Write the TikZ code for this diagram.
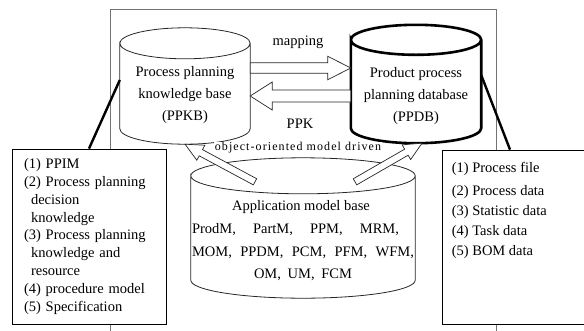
\documentclass[tikz,border=0pt]{standalone}
\usepackage{fontspec}
\setmainfont{Liberation Serif}
\usetikzlibrary{calc,positioning}
\newcommand\dbcyl[3][]{%
  \draw[#1] let \p1=(#2.north west), \p2=(#2.south east), \n1={(\x2-\x1)/2} in
    (\x1,\y1-#3) arc[start angle=180,end angle=-180,x radius=\n1,y radius=#3]
    -- (\x1,\y2+#3) arc[start angle=180,end angle=360,x radius=\n1,y radius=#3]
    -- (\x2,\y1-#3);}
\newcommand\bigarrow[6][]{%
  \coordinate (hb) at ($(#3)!#6!(#2)$);
  \draw[#1] ($(#2)!#4!90:(#3)$) -- ($(hb)!#4!-90:(#2)$) -- ($(hb)!#5!-90:(#2)$)
    -- (#3) -- ($(hb)!#5!90:(#2)$) -- ($(hb)!#4!90:(#2)$) -- ($(#2)!#4!-90:(#3)$) -- cycle;}

\begin{document}
\begin{tikzpicture}[x=1pt,y=1pt,
  dbase/.style={minimum width=130pt,inner sep=0pt},
  dbtext/.style={align=center,inner sep=0pt,font=\fontsize{14.5}{22}\selectfont},
  listbox/.style={draw=black,fill=white,line width=0.8pt},
  listtext/.style={align=left,inner sep=0pt,font=\fontsize{14.5}{20}\selectfont},
  link/.style={line width=2.4pt},
  blk/.style={draw=black!85,fill=white,line width=0.7pt,line join=miter}]
%
\useasboundingbox (0,-330) rectangle (584,0);
%
\definecolor{cfr}{rgb}{0.45,0.45,0.45}
\definecolor{ccy}{rgb}{0.15,0.15,0.15}
%
\draw[cfr,line width=0.8pt] (110,-9) rectangle (496,-345);
%
\node[dbase,minimum height=116pt] (ppkb) at (185,-86) {};
\node[dbase,minimum height=118pt] (ppdb) at (416,-84) {};
\node[dbase,minimum width=224pt,minimum height=140pt] (app) at (303,-228) {};
\dbcyl[ccy,line width=0.8pt]{ppkb}{15.5pt}
\dbcyl[black,line width=2.6pt]{ppdb}{15pt}
\dbcyl[ccy,line width=0.8pt]{app}{18pt}
%
\node[dbtext] (ppkbt) at ([yshift=-9pt]ppkb.center) {Process planning\\knowledge base\\(PPKB)};
\node[dbtext] (ppdbt) at ([yshift=-12pt]ppdb.center) {Product process\\planning database\\(PPDB)};
\node[dbtext,font=\fontsize{14.5}{22.7}\selectfont] (appt) at ([yshift=-13pt]app.center)
  {\hspace*{-4pt}Application model base\\
   \makebox[222pt][s]{ProdM,\hfill PartM,\hfill PPM,\hfill MRM,\hspace*{15pt}}\\
   \makebox[222pt][s]{MOM,\hfill PPDM,\hfill PCM,\hfill PFM,\hfill WFM,}\\
   \makebox[98pt][s]{OM,\hfill UM,\hfill FCM}};
%
\coordinate (mapa) at ([yshift=18pt]ppkb.east);
\coordinate (mapb) at ([yshift=16pt]ppdb.west);
\coordinate (ppka) at ([yshift=-12pt]ppdb.west);
\coordinate (ppkb2) at ([yshift=-10pt]ppkb.east);
\bigarrow[blk]{mapa}{mapb}{5.3pt}{11.7pt}{23pt}
\bigarrow[blk]{ppka}{ppkb2}{6pt}{14pt}{22pt}
\node[font=\fontsize{14.5}{16}\selectfont] (map) at (298,-42) {mapping};
\node[font=\fontsize{14.5}{16}\selectfont] (ppk) at (300,-124) {PPK};
%
\coordinate (la) at ([xshift=-48pt,yshift=-24pt]app.north);
\coordinate (ra) at ([xshift=52pt,yshift=-24pt]app.north);
\coordinate (lt) at (ppkb.south);
\coordinate (rt) at ([xshift=6pt]ppdb.south);
\bigarrow[blk]{la}{lt}{3.5pt}{8.5pt}{18pt}
\bigarrow[blk]{ra}{rt}{3.5pt}{8.5pt}{18pt}
\node[fill=white,inner sep=1pt,font=\fontsize{12}{14}\selectfont\addfontfeature{LetterSpace=9}] (oomd) at (298,-148) {object-oriented model driven};
%
\node[listbox,listtext,text width=130pt,inner xsep=12pt,minimum height=175pt,
  font=\fontsize{14.5}{17.8}\selectfont] (leftbox) at (89,-236.5)
  {(1) PPIM\\(2) Process planning\\\hspace*{7pt}decision\\\hspace*{7pt}knowledge\\(3) Process planning\\\hspace*{7pt}knowledge and\\\hspace*{7pt}resource\\(4) procedure model\\(5) Specification};
\node[listbox,minimum width=158pt,minimum height=174pt] (rightbox) at (521,-237) {};
\node[listtext,anchor=north west] (rightlist) at ([xshift=10pt,yshift=-12pt]rightbox.north west)
  {(1) Process file\\[3.4pt](2) Process data\\(3) Statistic data\\(4) Task data\\(5) BOM data};
%
\draw[link] (leftbox.north) -- ([yshift=6pt]ppkb.west);
\draw[link] ([xshift=-11pt]rightbox.north) -- ([yshift=9pt]ppdb.east);
%
\end{tikzpicture}
\end{document}
